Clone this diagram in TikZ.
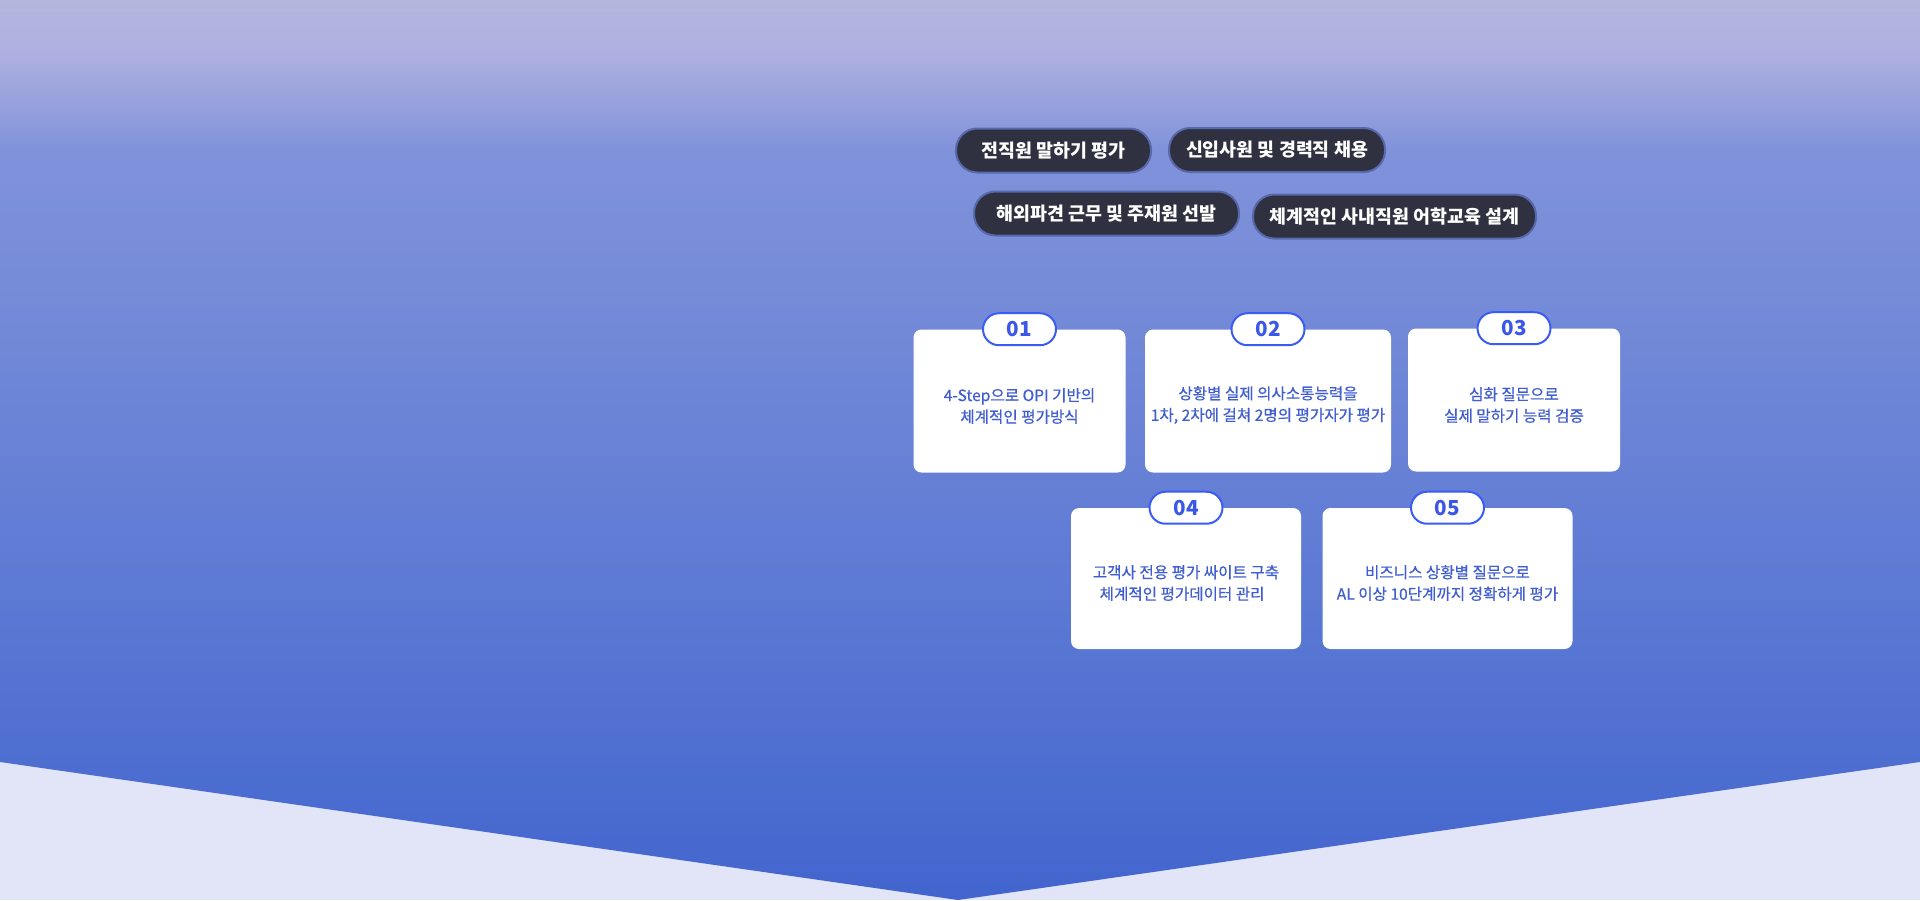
\documentclass[tikz,border=0pt]{standalone}
\usepackage{fontspec}
\setmainfont{Noto Sans CJK KR}
\newfontfamily\medf{Noto Sans CJK KR}[FakeBold=0.6]
\definecolor{lav}{RGB}{226,229,248}
\definecolor{ga}{RGB}{181,181,222}
\definecolor{gb}{RGB}{174,176,224}
\definecolor{gc}{RGB}{128,146,218}
\definecolor{gd}{RGB}{117,139,216}
\definecolor{ge}{RGB}{95,123,212}
\definecolor{gf}{RGB}{66,101,206}
\definecolor{pillfill}{RGB}{47,49,64}
\definecolor{pillline}{RGB}{88,104,170}
\definecolor{cardtxt}{RGB}{64,94,208}
\definecolor{badgeline}{RGB}{58,92,245}
\definecolor{badgetxt}{RGB}{58,87,232}
\tikzset{
  pill/.style={draw=pillline, line width=1.5pt, fill=pillfill, rounded corners=16pt,
    minimum height=44*0.75pt, inner sep=0pt, text=white,
    font=\fontsize{13.8pt}{16pt}\selectfont\bfseries},
  card/.style={fill=white, rounded corners=6pt, inner sep=0pt},
  cardtext/.style={text=cardtxt, align=center, inner sep=0pt,
    font=\medf\fontsize{11.7pt}{16.2pt}\selectfont},
  badge/.style={draw=badgeline, line width=1.5pt, fill=white, rounded corners=12pt,
    minimum width=73*0.75pt, minimum height=32*0.75pt, inner sep=0pt, text=badgetxt,
    font=\fontsize{15.5pt}{15.5pt}\selectfont\bfseries},
}
\begin{document}
\begin{tikzpicture}[x=0.75pt,y=-0.75pt]
\useasboundingbox (0,0) rectangle (1920,900);
% background
\fill[lav] (0,0) rectangle (1920,900);
\begin{scope}
  \clip (0,0) -- (1920,0) -- (1920,762) -- (958,900) -- (0,762) -- cycle;
  \shade[top color=ga, bottom color=gb] (0,0) rectangle (1920,56);
  \shade[top color=gb, bottom color=gc] (0,55) rectangle (1920,151);
  \shade[top color=gc, bottom color=gd] (0,150) rectangle (1920,301);
  \shade[top color=gd, bottom color=ge] (0,300) rectangle (1920,561);
  \shade[top color=ge, bottom color=gf] (0,560) rectangle (1920,900);
\end{scope}
% pills
\node[pill, minimum width=195*0.75pt] (p1) at (1053.5,150.5) {전직원 말하기 평가};
\node[pill, minimum width=216*0.75pt] (p2) at (1277,150) {신입사원 및 경력직 채용};
\node[pill, minimum width=265*0.75pt] (p3) at (1106.5,213.5) {해외파견 근무 및 주재원 선발};
\node[pill, minimum width=283*0.75pt] (p4) at (1394.5,216.5) {체계적인 사내직원 어학교육 설계};
% cards
\node[card, minimum width=212*0.75pt, minimum height=143*0.75pt] (c1) at (1019.5,401) {};
\node[card, minimum width=246*0.75pt, minimum height=143*0.75pt] (c2) at (1268,401) {};
\node[card, minimum width=212*0.75pt, minimum height=143*0.75pt] (c3) at (1514,400) {};
\node[card, minimum width=230*0.75pt, minimum height=141*0.75pt] (c4) at (1186,578.5) {};
\node[card, minimum width=250*0.75pt, minimum height=141*0.75pt] (c5) at (1447.5,578.5) {};
% card texts
\node[cardtext] (t1) at (1019.5,406) {4-Step으로 OPI 기반의\\체계적인 평가방식};
\node[cardtext] (t2) at (1268,405) {상황별 실제 의사소통능력을\\1차, 2차에 걸쳐 2명의 평가자가 평가};
\node[cardtext] (t3) at (1514,405) {심화 질문으로\\실제 말하기 능력 검증};
\node[cardtext] (t4) at (1186,583) {고객사 전용 평가 싸이트 구축\\체계적인 평가데이터 관리\hspace*{0.5em}};
\node[cardtext] (t5) at (1447.5,583) {비즈니스 상황별 질문으로\\AL 이상 10단계까지 정확하게 평가};
% badges
\node[badge] (b1) at (c1.north) {01};
\node[badge] (b2) at (c2.north) {02};
\node[badge] (b3) at (c3.north) {03};
\node[badge] (b4) at (c4.north) {04};
\node[badge] (b5) at (c5.north) {05};
\end{tikzpicture}
\end{document}
